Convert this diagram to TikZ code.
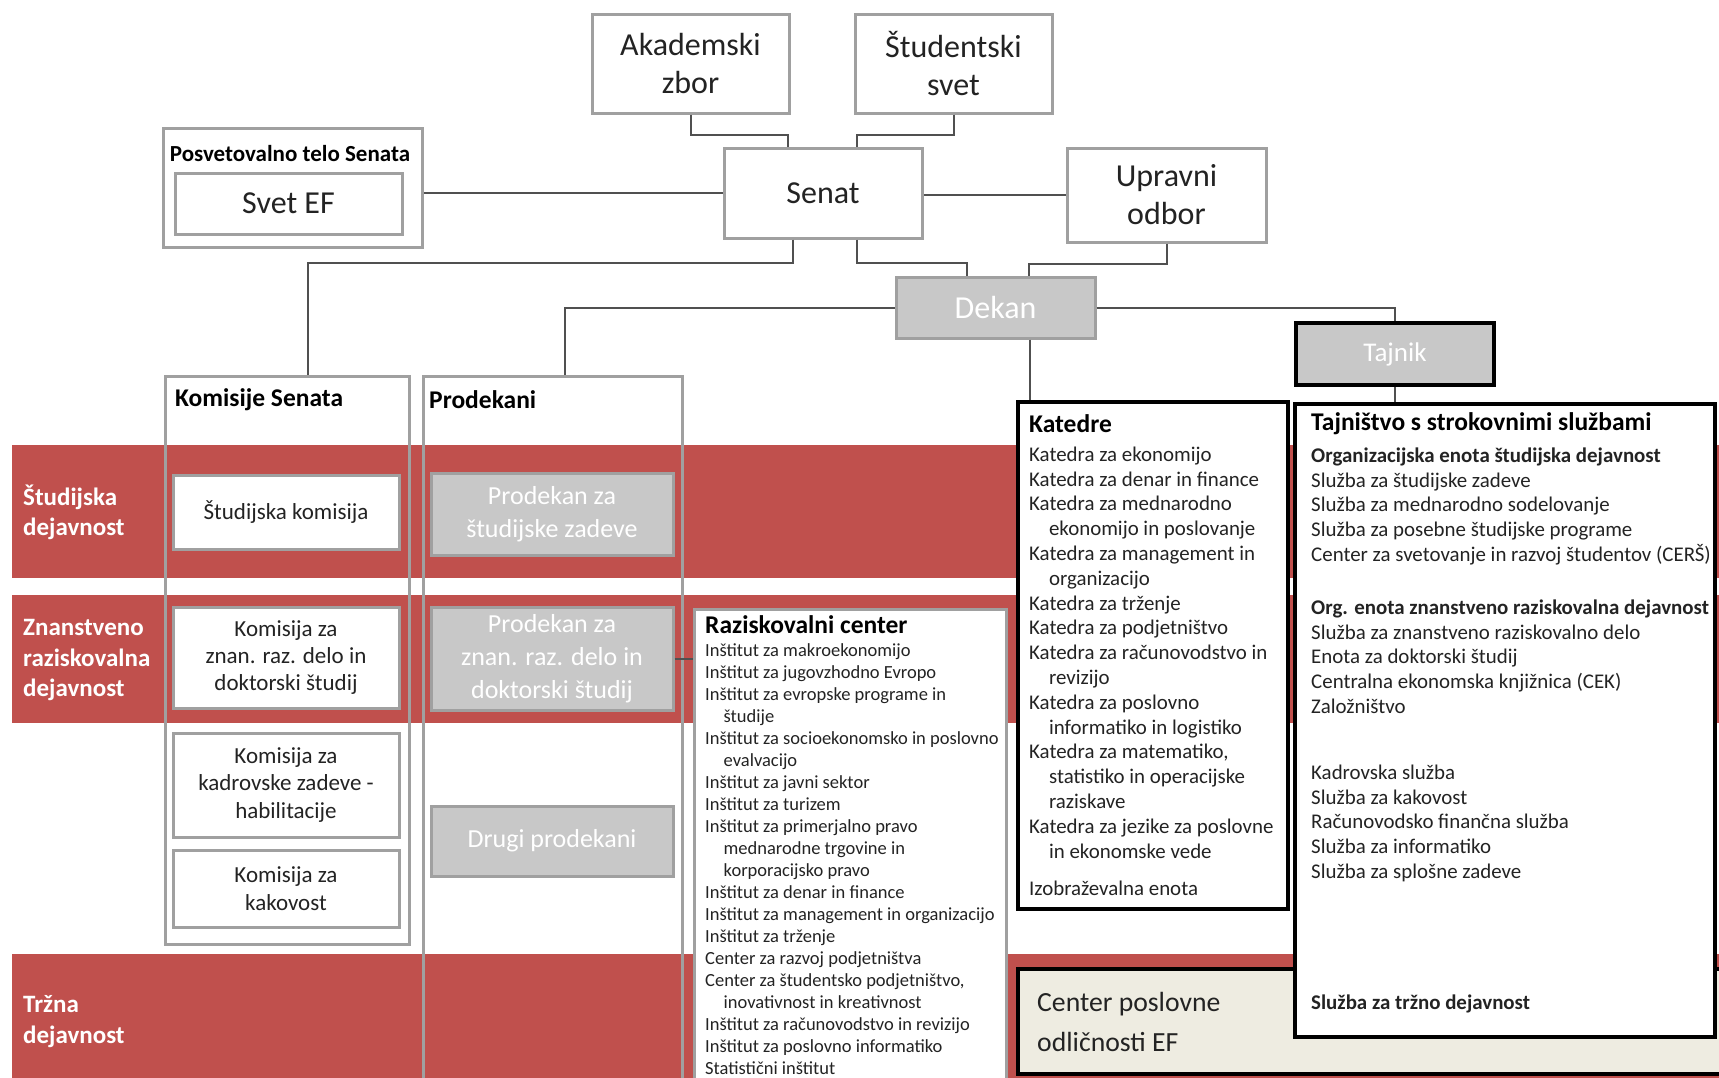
\documentclass[tikz,border=0pt]{standalone}
\usepackage{fontspec}
\setmainfont{Carlito}
\usetikzlibrary{positioning}
\definecolor{EFred}{RGB}{192,80,77}
\definecolor{EFgray}{RGB}{200,200,200}
\definecolor{EFgrayline}{RGB}{160,160,160}
\definecolor{EFline}{RGB}{80,80,80}
\definecolor{EFbeige}{RGB}{238,236,225}
\definecolor{EFtext}{RGB}{35,35,35}

\begin{document}
\begin{tikzpicture}[x=1pt, y=-1pt,
    % box styles
    topbox/.style={draw=EFgrayline, line width=3pt, fill=white, text=EFtext, inner sep=0pt, align=center, font=\fontsize{32}{38}\selectfont},
    greybox/.style={draw=EFgrayline, line width=3pt, fill=EFgray, text=white, inner sep=0pt, align=center, font=\fontsize{32}{38}\selectfont},
    colbox/.style={draw=EFgrayline, line width=3pt, inner sep=0pt, anchor=north west},
    kombox/.style={draw=EFgrayline, line width=3pt, fill=white, text=EFtext, inner sep=0pt, align=center, minimum width=226, font=\fontsize{23}{27.4}\selectfont},
    probox/.style={draw=EFgrayline, line width=3pt, fill=EFgray, text=white, inner sep=0pt, align=center, minimum width=242, font=\fontsize{26}{33}\selectfont},
    listbox/.style={draw=black, line width=3.5pt, fill=white, inner sep=0pt, anchor=north west},
    % text styles
    coltitle/.style={anchor=west, inner sep=0pt, text=black, font=\bfseries\fontsize{25.5}{30}\selectfont},
    bandlabel/.style={anchor=west, inner sep=0pt, text=white, align=left, font=\bfseries\fontsize{25}{30.5}\selectfont},
    items/.style={anchor=north west, inner sep=0pt, text=EFtext, align=left, font=\fontsize{20.9}{24.8}\selectfont},
    % connectors
    conn/.style={draw=EFline, line width=2pt}
]
\useasboundingbox (0,0) rectangle (1719,1077);
\clip (0,0) rectangle (1719,1077);

% --- RED BANDS ---
\fill[EFred] (12,445) rectangle (1730,578);
\fill[EFred] (12,595) rectangle (1730,723);
\fill[EFred] (12,954) rectangle (1730,1090);
\node[bandlabel] (lstud) at (23,512.5) {Študijska\\dejavnost};
\node[bandlabel] (lznan) at (23,660) {Znanstveno\\raziskovalna\\dejavnost};
\node[bandlabel] (ltrz) at (23,1021.5) {Tržna\\dejavnost};

% --- TOP ---
\node[topbox, minimum width=197, minimum height=99] (aka) at (690.5,63.5) {Akademski\\zbor};
\node[topbox, minimum width=197, minimum height=99] (stu) at (953.5,63.5) {Študentski\\svet};
\node[topbox, minimum width=198, minimum height=90] (sen) at (823,193) {Senat};
\node[topbox, minimum width=199, minimum height=94] (upr) at (1166.5,195) {Upravni\\odbor};

% Posvetovalno telo
\node[topbox, minimum width=259, minimum height=119] (posv) at (292.5,187.5) {};
\node[coltitle, anchor=center, font=\bfseries\fontsize{23}{27}\selectfont] (posvt) at (290,153.5) {Posvetovalno telo Senata};
\node[topbox, minimum width=227, minimum height=61] (svet) at (288.5,203.5) {Svet EF};

% Dekan, Tajnik
\node[greybox, minimum width=199, minimum height=61] (dek) at (995.5,307.5) {Dekan};
\node[greybox, draw=black, line width=4pt, minimum width=198, minimum height=62, font=\fontsize{27}{32}\selectfont] (taj) at (1395,354) {Tajnik};

% --- KOMISIJE SENATA ---
\node[colbox, minimum width=244, minimum height=568] (kom) at (164,375) {};
\node[coltitle] (komt) at (175,400) {Komisije Senata};
\node[kombox, minimum height=74] (kstud) at (286,512) {Študijska komisija};
\node[kombox, minimum height=101] (kznan) at (286,657.5) {Komisija za\\znan. raz. delo in\\doktorski študij};
\node[kombox, minimum height=104] (kkad) at (286,785) {Komisija za\\kadrovske zadeve -\\habilitacije};
\node[kombox, minimum height=77] (kkak) at (286,888.5) {Komisija za\\kakovost};

% --- PRODEKANI ---
\node[colbox, minimum width=259, minimum height=740] (pro) at (422,375) {};
\node[coltitle] (prot) at (429,400) {Prodekani};
\node[probox, minimum height=82] (pstud) at (552,514.5) {Prodekan za\\študijske zadeve};
\node[probox, minimum height=103] (pznan) at (552,658.5) {Prodekan za\\znan. raz. delo in\\doktorski študij};
\node[probox, minimum height=70] (pdrug) at (552,841) {Drugi prodekani};

% --- RAZISKOVALNI CENTER ---
\node[listbox, draw=EFgrayline, line width=3pt, minimum width=312, minimum height=520] (raz) at (693,608) {};
\node[coltitle] (razt) at (705,625) {Raziskovalni center};
\node[items, font=\fontsize{18.5}{22}\selectfont] (razl) at (705,643) {Inštitut za makroekonomijo\\
Inštitut za jugovzhodno Evropo\\
Inštitut za evropske programe in\\
\hspace*{1em}študije\\
Inštitut za socioekonomsko in poslovno\\
\hspace*{1em}evalvacijo\\
Inštitut za javni sektor\\
Inštitut za turizem\\
Inštitut za primerjalno pravo\\
\hspace*{1em}mednarodne trgovine in\\
\hspace*{1em}korporacijsko pravo\\
Inštitut za denar in finance\\
Inštitut za management in organizacijo\\
Inštitut za trženje\\
Center za razvoj podjetništva\\
Center za študentsko podjetništvo,\\
\hspace*{1em}inovativnost in kreativnost\\
Inštitut za računovodstvo in revizijo\\
Inštitut za poslovno informatiko\\
Statistični inštitut};

% --- KATEDRE ---
\node[listbox, minimum width=270, minimum height=507] (kat) at (1016,400) {};
\node[coltitle] (katt) at (1029,424) {Katedre};
\node[items] (katl) at (1029,446.5) {Katedra za ekonomijo\\
Katedra za denar in finance\\
Katedra za mednarodno\\
\hspace*{0.95em}ekonomijo in poslovanje\\
Katedra za management in\\
\hspace*{0.95em}organizacijo\\
Katedra za trženje\\
Katedra za podjetništvo\\
Katedra za računovodstvo in\\
\hspace*{0.95em}revizijo\\
Katedra za poslovno\\
\hspace*{0.95em}informatiko in logistiko\\
Katedra za matematiko,\\
\hspace*{0.95em}statistiko in operacijske\\
\hspace*{0.95em}raziskave\\
Katedra za jezike za poslovne\\
\hspace*{0.95em}in ekonomske vede\\[12.5pt]
Izobraževalna enota};

% --- CENTER POSLOVNE ODLICNOSTI ---
\node[listbox, draw=black, line width=4pt, fill=EFbeige, minimum width=720, minimum height=105] (cpo) at (1016,967) {};
\node[items, anchor=west, font=\fontsize{27.7}{40}\selectfont] (cpot) at (1037,1022) {Center poslovne\\odličnosti EF};

% --- TAJNISTVO ---
\node[listbox, minimum width=420, minimum height=633] (tsl) at (1293,402) {};
\node[coltitle] (tslt) at (1311,424) {Tajništvo s strokovnimi službami};
\node[items] (tsll) at (1311,447.5) {\textbf{Organizacijska enota študijska dejavnost}\\
Služba za študijske zadeve\\
Služba za mednarodno sodelovanje\\
Služba za posebne študijske programe\\
Center za svetovanje in razvoj študentov (CERŠ)\\[28pt]
\textbf{Org. enota znanstveno raziskovalna dejavnost}\\
Služba za znanstveno raziskovalno delo\\
Enota za doktorski študij\\
Centralna ekonomska knjižnica (CEK)\\
Založništvo\\[41pt]
Kadrovska služba\\
Služba za kakovost\\
Računovodsko finančna služba\\
Služba za informatiko\\
Služba za splošne zadeve\\[106pt]
\textbf{Služba za tržno dejavnost}};

% --- CONNECTORS ---
\draw[conn] (aka.south) -- ++(0,20) -| ([xshift=65pt]sen.north west);
\draw[conn] (stu.south) -- ++(0,20) -| ([xshift=-67pt]sen.north east);
\draw[conn] (sen.west) -- (sen.west -| posv.east);
\draw[conn] (upr.west) -- (upr.west -| sen.east);
\draw[conn] ([xshift=70pt]sen.south west) -- ++(0,23) -| ([xshift=144pt]kom.north west);
\draw[conn] ([xshift=-67pt]sen.south east) -- ++(0,23) -| ([xshift=72pt]dek.north west);
\draw[conn] (upr.south) -- ++(0,20) -| ([xshift=-68pt]dek.north east);
\draw[conn] (dek.west) -| ([xshift=143pt]pro.north west);
\draw[conn] (dek.east) -| (taj.north);
\draw[conn] ([xshift=135pt]dek.south west) -- ([xshift=135pt]dek.south west |- kat.north);
\draw[conn] (taj.south) -- (taj.south |- tsl.north);
\draw[conn] (pznan.east) -- (pznan.east -| raz.west);

\end{tikzpicture}
\end{document}
